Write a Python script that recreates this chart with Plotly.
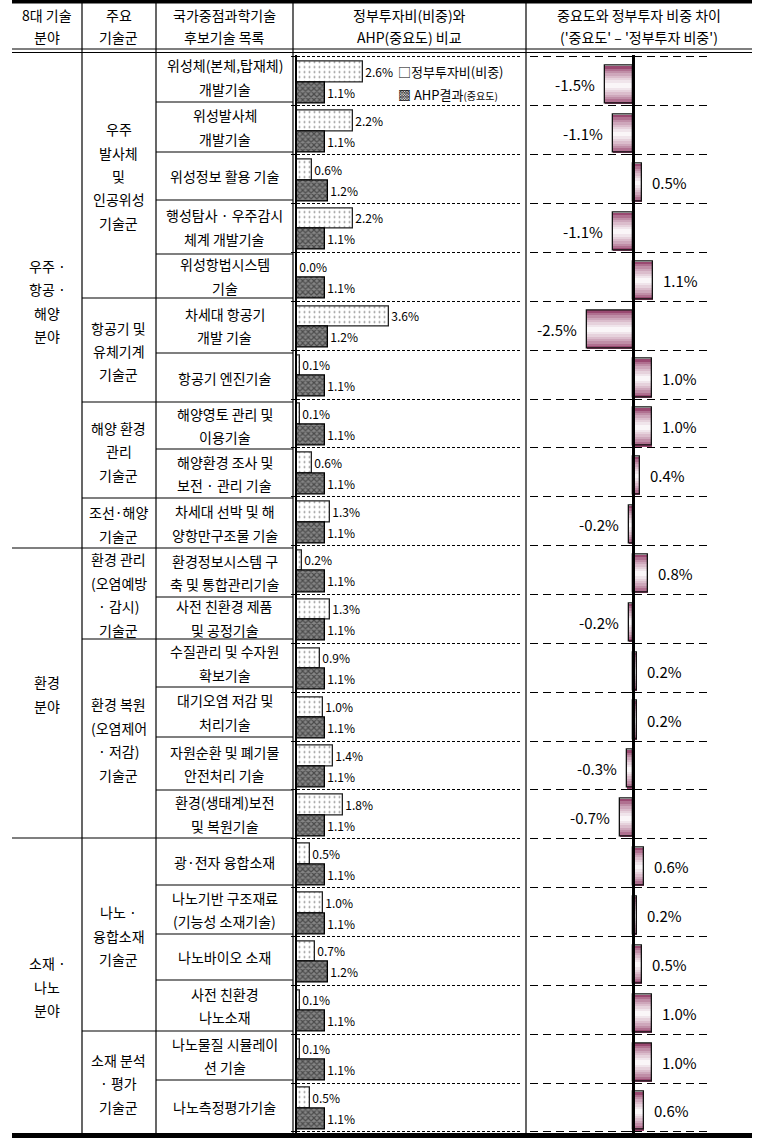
import plotly.graph_objects as go

W, H = 761, 1146
FONT = "Noto Sans CJK KR"

# ---------------- data ----------------
header_cols = ["8대 기술\n분야", "주요\n기술군", "국가중점과학기술\n후보기술 목록",
               "정부투자비(비중)와\nAHP(중요도) 비교", "중요도와 정부투자 비중 차이\n('중요도' – '정부투자 비중')"]

fields = ["우주 ·\n항공 ·\n해양\n분야", "환경\n분야", "소재 ·\n나노\n분야"]
field_rows = [(0, 10), (10, 16), (16, 22)]

groups = ["우주\n발사체\n및\n인공위성\n기술군", "항공기 및\n유체기계\n기술군", "해양 환경\n관리\n기술군",
          "조선·해양\n기술군", "환경 관리\n(오염예방\n· 감시)\n기술군", "환경 복원\n(오염제어\n· 저감)\n기술군",
          "나노 ·\n융합소재\n기술군", "소재 분석\n· 평가\n기술군"]
group_rows = [(0, 5), (5, 7), (7, 9), (9, 10), (10, 12), (12, 16), (16, 20), (20, 22)]

techs = ["위성체(본체,탑재체)\n개발기술", "위성발사체\n개발기술", "위성정보 활용 기술",
         "행성탐사 · 우주감시\n체계 개발기술", "위성항법시스템\n기술", "차세대 항공기\n개발 기술",
         "항공기 엔진기술", "해양영토 관리 및\n이용기술", "해양환경 조사 및\n보전 · 관리 기술",
         "차세대 선박 및 해\n양항만구조물 기술", "환경정보시스템 구\n축 및 통합관리기술",
         "사전 친환경 제품\n및 공정기술", "수질관리 및 수자원\n확보기술", "대기오염 저감 및\n처리기술",
         "자원순환 및 폐기물\n안전처리 기술", "환경(생태계)보전\n및 복원기술", "광·전자 융합소재",
         "나노기반 구조재료\n(기능성 소재기술)", "나노바이오 소재", "사전 친환경\n나노소재",
         "나노물질 시뮬레이\n션 기술", "나노측정평가기술"]

gov = [2.6, 2.2, 0.6, 2.2, 0.0, 3.6, 0.1, 0.1, 0.6, 1.3, 0.2, 1.3, 0.9, 1.0, 1.4, 1.8,
       0.5, 1.0, 0.7, 0.1, 0.1, 0.5]
ahp = [1.1, 1.1, 1.2, 1.1, 1.1, 1.2, 1.1, 1.1, 1.1, 1.1, 1.1, 1.1, 1.1, 1.1, 1.1, 1.1,
       1.1, 1.1, 1.2, 1.1, 1.1, 1.1]
diff = [-1.5, -1.1, 0.5, -1.1, 1.1, -2.5, 1.0, 1.0, 0.4, -0.2, 0.8, -0.2, 0.2, 0.2, -0.3, -0.7,
        0.6, 0.2, 0.5, 1.0, 1.0, 0.6]

legend_labels = ["□정부투자비(비중)", "▩ AHP결과<span style='font-size:10px'>(중요도)</span>"]

# ---------------- layout helpers ----------------
def px(x):
    return x / W

def py(y):
    return 1 - y / H

TL = [52, 102, 152, 200, 254, 298, 353, 402, 449, 498, 548, 597, 639, 687, 737, 790, 838,
      885, 934, 980, 1031, 1080, 1133]
COLX = [12, 82, 156, 293, 526, 752]
LINE_SP = 23.5

n = len(techs)
rows = list(range(n))
CH_TOP, CH_BOT = 57, 1132
rh = (CH_BOT - CH_TOP) / n
pad = 0.05
dom = [py(CH_BOT + pad * rh), py(CH_TOP - pad * rh)]
yrange = [n - 0.5 + pad, -0.5 - pad]

shapes = []
def hline(y, x0, x1, w=1.2):
    shapes.append(dict(type="line", xref="paper", yref="paper", x0=px(x0), x1=px(x1),
                       y0=py(y), y1=py(y), line=dict(color="black", width=w)))

def vline(x, y0, y1, w=1.2):
    shapes.append(dict(type="line", xref="paper", yref="paper", x0=px(x), x1=px(x),
                       y0=py(y0), y1=py(y1), line=dict(color="black", width=w)))

hline(1.8, 12, 752, 3.5)
hline(49, 12, 752, 1.1)
hline(52.5, 12, 752, 1.1)
hline(1135.5, 12, 752, 5)
for x in COLX[1:5]:
    vline(x, 2, 1133)

field_bounds = {a for a, b in field_rows}
group_bounds = {a for a, b in group_rows}
for i in range(1, n):
    if i in field_bounds:
        hline(TL[i], 12, 293)
    elif i in group_bounds:
        hline(TL[i], 82, 293)
    else:
        hline(TL[i], 156, 293)

annotations = []
def mtext(text, xc, yc, size=14, sp=LINE_SP):
    lines = text.split("\n")
    k = len(lines)
    for j, ln in enumerate(lines):
        y = yc + (j - (k - 1) / 2) * sp
        annotations.append(dict(text=ln, x=px(xc), y=py(y), xref="paper", yref="paper",
                                showarrow=False, xanchor="center", yanchor="middle",
                                font=dict(family=FONT, size=size, color="black")))

centers = [47, 119, 224.5, 409.5, 639]
for t, xc in zip(header_cols, centers):
    mtext(t, xc, 26, sp=22)

for t, (a, b) in zip(fields, field_rows):
    mtext(t, 47, (TL[a] + TL[b]) / 2 + 1)
for t, (a, b) in zip(groups, group_rows):
    mtext(t, 119, (TL[a] + TL[b]) / 2 + 1)
for i, t in enumerate(techs):
    mtext(t, 224.5, (TL[i] + TL[i + 1]) / 2)

for lab, yy in zip(legend_labels, [72, 94]):
    annotations.append(dict(text=lab, x=px(396), y=py(yy), xref="paper", yref="paper",
                            showarrow=False, xanchor="left", yanchor="middle",
                            font=dict(family=FONT, size=13, color="black")))

# ---------------- traces ----------------
fig = go.Figure()
fig.add_trace(go.Bar(
    orientation="h", y=rows, x=gov, offset=-0.40, width=0.42, xaxis="x", yaxis="y",
    marker=dict(color="white", line=dict(color="#222", width=1.3),
                pattern=dict(shape=".", fgcolor="#222", bgcolor="white", size=5, solidity=0.12)),
    text=[f"{v:.1f}%" for v in gov], textposition="outside", cliponaxis=False,
    constraintext="none", textfont=dict(family=FONT, size=12, color="black")))
fig.add_trace(go.Bar(
    orientation="h", y=rows, x=ahp, offset=0.02, width=0.43, xaxis="x", yaxis="y",
    marker=dict(color="#6a6a6a", line=dict(color="black", width=1.3),
                pattern=dict(shape="x", fgcolor="#111", bgcolor="#858585", size=4, solidity=0.5)),
    text=[f"{v:.1f}%" for v in ahp], textposition="outside", cliponaxis=False,
    constraintext="none", textfont=dict(family=FONT, size=12, color="black")))

# gradient diff bars: horizontal stripes symmetric about the bar centre
M = 16
maroon = (130, 30, 80)
c0 = 0.07
wmax = 0.78
h = wmax / M
for j in range(M):
    d = (j + 0.5) * h - wmax / 2
    r = abs(d) / (wmax / 2)
    t = (1 - r) ** 0.6
    col = tuple(int(round(m + (255 - m) * t)) for m in maroon)
    fig.add_trace(go.Bar(
        orientation="h", y=rows, x=diff, offset=c0 - wmax / 2 + j * h - 0.002, width=h + 0.004,
        xaxis="x2", yaxis="y2",
        marker=dict(color=f"rgb{col}", line=dict(width=0)),
        textposition="none", cliponaxis=False))
fig.add_trace(go.Bar(
    orientation="h", y=rows, x=diff, offset=c0 - wmax / 2, width=wmax, xaxis="x2", yaxis="y2",
    marker=dict(color="rgba(0,0,0,0)", line=dict(color="#111", width=1.3)),
    textposition="none", cliponaxis=False))

# diff value labels, placed with a gap beyond the bar end
for k, v in zip(rows, diff):
    neg = v < 0
    annotations.append(dict(text=f"{v:.1f}%", x=v, y=k + c0, xref="x2", yref="y2",
                            showarrow=False, xanchor="right" if neg else "left",
                            yanchor="middle", xshift=-8 if neg else 8,
                            font=dict(family=FONT, size=15, color="black")))

bounds = [k - 0.5 for k in range(n + 1)]

fig.update_layout(
    width=W, height=H, margin=dict(l=0, r=0, t=0, b=0),
    paper_bgcolor="white", plot_bgcolor="rgba(0,0,0,0)",
    showlegend=False, barmode="overlay", bargap=0,
    font=dict(family=FONT),
    xaxis=dict(domain=[px(297), px(522)], range=[0, 225 / 25.5],
               showline=False, showgrid=False, zeroline=False, showticklabels=False, ticks="",
               anchor="y"),
    yaxis=dict(domain=dom, range=yrange, anchor="x", tickvals=bounds, showticklabels=False,
               ticks="outside", ticklen=4, tickcolor="black", tickwidth=1.2,
               showline=True, linecolor="black", linewidth=2,
               showgrid=True, gridcolor="black", gridwidth=1, griddash="3px,2px",
               zeroline=False),
    xaxis2=dict(domain=[px(530), px(712)], range=[-(633 - 530) / 18.5, (712 - 633) / 18.5],
                showline=False, showgrid=False, zeroline=False, showticklabels=False, ticks="",
                anchor="y2"),
    yaxis2=dict(domain=dom, range=yrange, anchor="free", position=px(633), tickvals=bounds,
                showticklabels=False, ticks="outside", ticklen=3, tickcolor="black", tickwidth=1.2,
                showline=True, linecolor="black", linewidth=3,
                showgrid=True, gridcolor="black", gridwidth=1, griddash="8px,5px",
                zeroline=False),
    shapes=shapes, annotations=annotations,
)

fig.write_html("out.html")
